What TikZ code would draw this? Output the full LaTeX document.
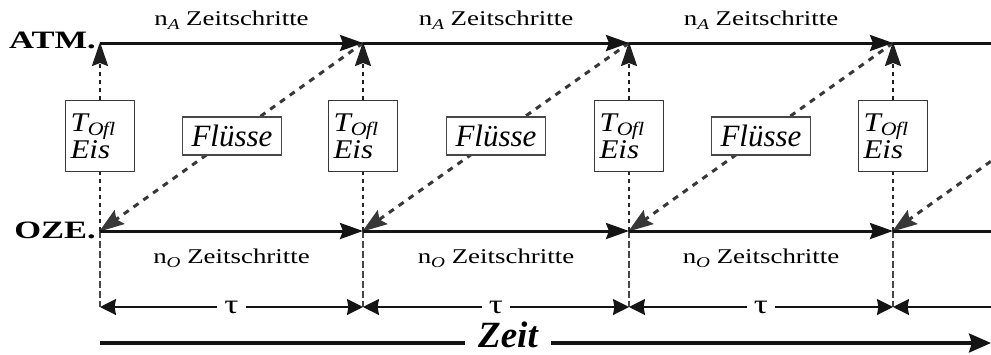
\documentclass[tikz,border=0pt]{standalone}
\usepackage{fontspec}
\setmainfont{Liberation Serif}
\usepackage{graphicx}
\usetikzlibrary{arrows.meta}

% horizontally widened text
\newcommand{\wide}[2]{\scalebox{#1}[1]{#2}}
\newcommand{\steps}[1]{\fontsize{21}{21}\selectfont\wide{1.28}{n\raisebox{-4pt}{\fontsize{15}{15}\selectfont\itshape #1}\ Zeitschritte}}
\newcommand{\tofl}{\fontsize{27}{34}\selectfont\itshape
  \wide{1.15}{T\raisebox{-4pt}{\fontsize{19}{19}\selectfont O\kern-0.5pt fl}}\\
  \wide{1.15}{Eis}}

\begin{document}
\begin{tikzpicture}[x=1pt,y=-1pt,
  timeline/.style={line width=3pt, draw=black!92,
    -{Stealth[length=23pt,width=16pt,inset=3pt]}},
  plainline/.style={line width=3pt, draw=black!92},
  upflow/.style={line width=2.4pt, draw=black!88, dash pattern=on 4pt off 4pt,
    -{Stealth[length=24pt,width=16pt,inset=3pt,sep=-1pt]}},
  downguide/.style={line width=1.5pt, draw=black!72, dash pattern=on 7pt off 3pt},
  upguide/.style={line width=2.4pt, draw=black!85, dash pattern=on 4pt off 4pt},
  flux/.style={line width=3pt, draw=black!78, dash pattern=on 6pt off 6pt,
    -{Stealth[length=25pt,width=17pt,inset=4pt]}},
  tauline/.style={line width=2pt, draw=black!92,
    {Stealth[length=16pt,width=16pt,inset=1.5pt]}-{Stealth[length=16pt,width=16pt,inset=1.5pt]}},
  taulast/.style={line width=2pt, draw=black!92,
    {Stealth[length=16pt,width=16pt,inset=1.5pt]}-},
  zeitline/.style={line width=3.2pt, draw=black!92,
    -{Stealth[length=22pt,width=19pt,inset=3pt]}},
  tbox/.style={draw=black!78, line width=1.6pt, fill=white, minimum width=69pt,
    minimum height=71pt, text width=59pt, align=left, inner sep=0pt},
  fbox/.style={draw=black!72, line width=1.6pt, fill=white, minimum width=99pt,
    minimum height=38pt, inner sep=0pt,
    font=\fontsize{31}{31}\selectfont\itshape},
  lbl/.style={inner sep=0pt, font=\fontsize{25}{25}\selectfont\bfseries},
  taulbl/.style={fill=white, inner xsep=7pt, inner ysep=0pt,
    font=\fontsize{27}{27}\selectfont},
  zeitlbl/.style={fill=white, inner xsep=13pt, inner ysep=0pt,
    font=\fontsize{37}{37}\selectfont\bfseries\itshape}
]
\clip (0,0) rectangle (991,354);

% time marks on the two model lines
\coordinate (a0) at (100,43);  \coordinate (o0) at (100,231);
\coordinate (a1) at (363,43);  \coordinate (o1) at (363,231);
\coordinate (a2) at (629,43);  \coordinate (o2) at (629,231);
\coordinate (a3) at (893,43);  \coordinate (o3) at (893,231);
\coordinate (a4) at (1157,43);
\coordinate (ae) at (991,43);  \coordinate (oe) at (991,231);
% coupling interval row
\coordinate (t0) at (100,307); \coordinate (t1) at (363,307);
\coordinate (t2) at (629,307); \coordinate (t3) at (893,307);
\coordinate (te) at (991,307);
% time axis
\coordinate (z0) at (100,343); \coordinate (ze) at (991,343);

% row labels
\node[lbl, anchor=base east] (atm) at (96,48) {\wide{1.38}{ATM.}};
\node[lbl, anchor=base east] (oze) at (96,238) {\wide{1.38}{OZE.}};

% fluxes from the atmosphere back to the ocean
\foreach \i/\j in {1/0,2/1,3/2,4/3}
  \draw[flux, shorten >=-1pt] (a\i) -- (o\j);

% dashed guides below the ocean line
\foreach \i in {0,1,2,3}
  \draw[downguide] (o\i) -- (t\i);

% boxes
\foreach \i/\x in {0/100,1/363,2/629,3/893}
  \node[tbox] (b\i) at (\x,136) {\tofl};
\node[fbox] (f0) at (232,136) {Flüsse};
\node[fbox] (f1) at (496,136) {Flüsse};
\node[fbox] (f2) at (761,136) {Flüsse};

% ocean state passed up to the atmosphere
\foreach \i in {0,1,2,3} {
  \draw[upguide] (o\i) -- (b\i.south);
  \draw[upflow] (b\i.north) -- (a\i);
}

% atmosphere and ocean time lines
\draw[timeline] (a0) -- (a1) node[midway, above=9pt] (na0) {\steps{A}};
\draw[timeline] (a1) -- (a2) node[midway, above=9pt] (na1) {\steps{A}};
\draw[timeline] (a2) -- (a3) node[midway, above=9pt] (na2) {\steps{A}};
\draw[plainline] (a3) -- (ae);
\draw[timeline] (o0) -- (o1) node[midway, below=13pt] (no0) {\steps{O}};
\draw[timeline] (o1) -- (o2) node[midway, below=13pt] (no1) {\steps{O}};
\draw[timeline] (o2) -- (o3) node[midway, below=13pt] (no2) {\steps{O}};
\draw[plainline] (o3) -- (oe);

% coupling intervals
\draw[tauline] (t0) -- (t1) node[midway, taulbl] (tau0) {\wide{1.3}{τ}};
\draw[tauline] (t1) -- (t2) node[midway, taulbl] (tau1) {\wide{1.3}{τ}};
\draw[tauline] (t2) -- (t3) node[midway, taulbl] (tau2) {\wide{1.3}{τ}};
\draw[taulast] (t3) -- (te);

% time axis, with its label sitting on the line
\draw[zeitline] (z0) -- (ze);
\node[zeitlbl, anchor=base] (zeit) at (508,347) {Zeit};
\end{tikzpicture}
\end{document}
